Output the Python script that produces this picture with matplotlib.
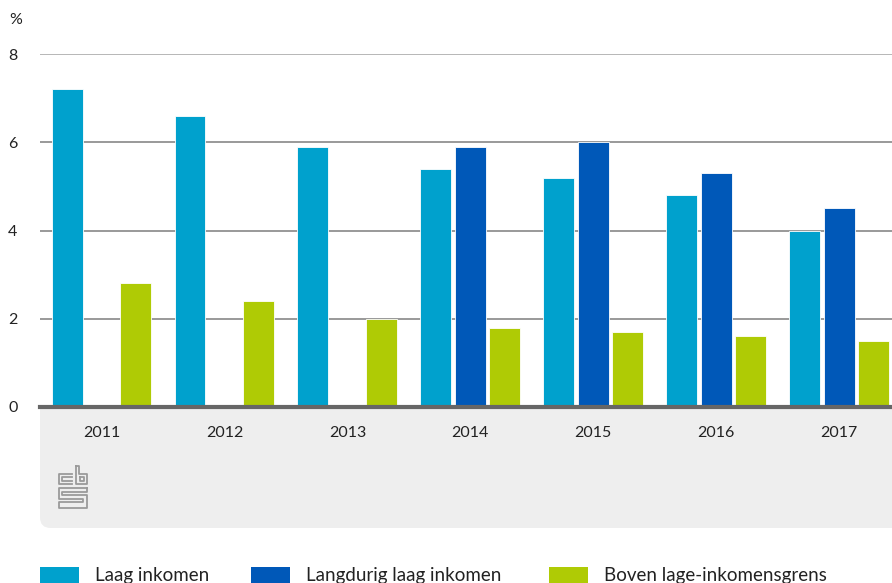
import matplotlib
matplotlib.use("Agg")
import matplotlib.pyplot as plt
import numpy as np
from matplotlib.patches import FancyBboxPatch, Rectangle
from matplotlib.lines import Line2D

plt.rcParams['font.family'] = ['Lato', 'DejaVu Sans']

years = ['2011', '2012', '2013', '2014', '2015', '2016', '2017']
laag = [7.2, 6.6, 5.9, 5.4, 5.2, 4.8, 4.0]
langdurig = [np.nan, np.nan, np.nan, 5.9, 6.0, 5.3, 4.5]
boven = [2.8, 2.4, 2.0, 1.8, 1.7, 1.6, 1.5]
series_names = ['Laag inkomen', 'Langdurig laag inkomen', 'Boven lage-inkomensgrens']
colors = ['#00a1cd', '#0058b8', '#afcb05']

W, H = 892, 583
fig = plt.figure(figsize=(W / 100, H / 100), dpi=100)


def px(x, y):
    return x / W, 1 - y / H


# axes box in pixels
left, right, top, bottom = 40, 892, 54, 407
ax = fig.add_axes([left / W, 1 - bottom / H, (right - left) / W, (bottom - top) / H])
ax.set_facecolor('white')
ax.set_zorder(1)

x = np.arange(len(years))
bw = 0.252
step = 0.28
for i, (vals, c) in enumerate(zip([laag, langdurig, boven], colors)):
    ax.bar(x + (i - 1) * step, vals, width=bw, color=c, edgecolor='white',
           linewidth=0.6, zorder=3)

ax.set_xlim(-0.5, 6.43)
ax.set_ylim(0, 8)
for y in [2, 4, 6]:
    ax.axhline(y, color='#888888', lw=1.2, zorder=1)
ax.axhline(8, color='#aaaaaa', lw=1.2, zorder=1)
ax.axhline(0, color='#666666', lw=3, zorder=4, clip_on=False)

for s in ax.spines.values():
    s.set_visible(False)
ax.set_yticks([0, 2, 4, 6, 8])
ax.set_yticklabels(['0', '2', '4', '6', '8'], ha='left')
ax.tick_params(axis='y', length=0, pad=23, labelsize=11.5, labelcolor='#222222')
ax.set_xticks(x)
ax.set_xticklabels(years)
ax.tick_params(axis='x', length=0, pad=14, labelsize=11.5, labelcolor='#222222')

fig.text(*px(9, 20), '%', fontsize=11.5, color='#222222', va='center', ha='left')

# grey panel under the axis
x0, y0 = px(40, 528)
panel = FancyBboxPatch((x0, y0), 1.2, (528 - 380) / H,
                       boxstyle='round,pad=0,rounding_size=0.012',
                       transform=fig.transFigure, facecolor='#eeeeee',
                       edgecolor='none', zorder=0, mutation_aspect=W / H)
fig.patches.append(panel)

# cbs logo
logo = [
    [(72, 474), (59, 474), (59, 484), (72, 484)],
    [(72, 477), (62, 477), (62, 481), (72, 481)],
    [(76, 466), (76, 484), (87, 484), (87, 474), (79, 474), (79, 466), (76, 466)],
    [(80, 477), (84, 477), (84, 481), (80, 481), (80, 477)],
    [(87, 488), (59, 488), (59, 499), (83, 499), (83, 502), (59, 502), (59, 508),
     (87, 508), (87, 495), (62, 495), (62, 492), (87, 492), (87, 488)],
]
for path in logo:
    xs, ys = zip(*[px(a, b) for a, b in path])
    fig.lines.append(Line2D(xs, ys, transform=fig.transFigure, color='#9a9a9a',
                            lw=1.3, zorder=2))

# legend
for (sx, tx), name, c in zip([(40, 95), (251, 306), (549, 604)], series_names, colors):
    rx, ry = px(sx, 583)
    fig.patches.append(Rectangle((rx, ry), 39 / W, 16 / H, transform=fig.transFigure,
                                 facecolor=c, edgecolor='none'))
    fig.text(*px(tx, 581), name, fontsize=13.5, color='#222222', ha='left', va='baseline')

fig.savefig('out.png', dpi=100)
